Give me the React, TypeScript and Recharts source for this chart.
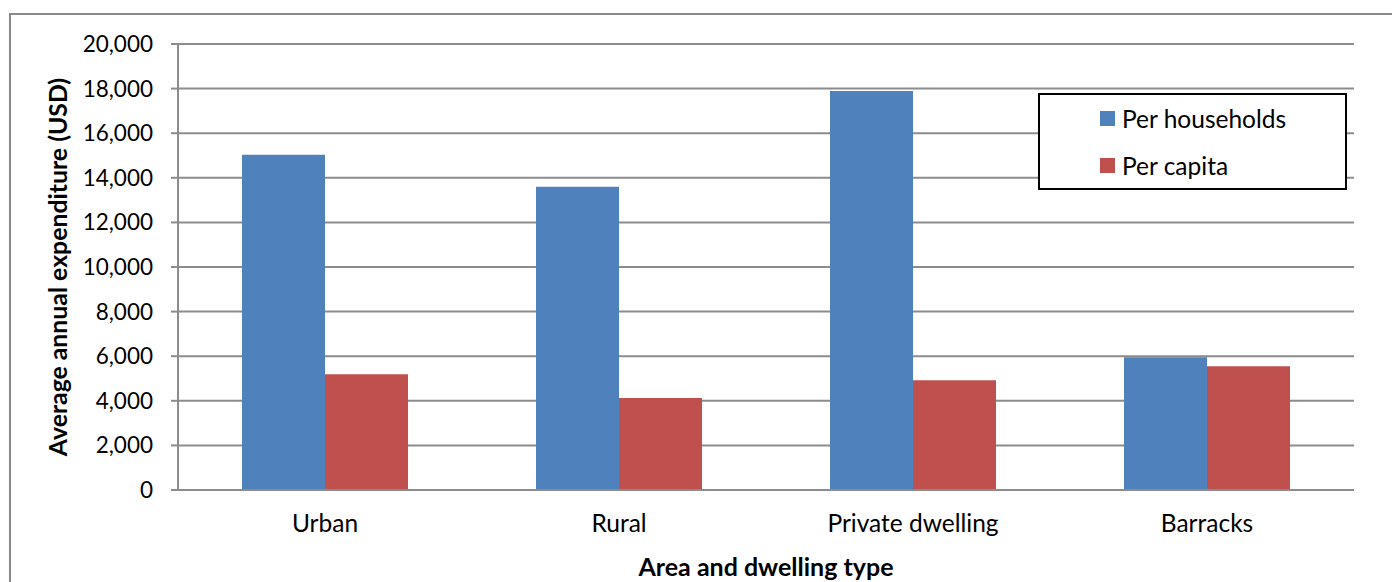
import React from 'react'
import {
    BarChart,
    Bar,
    XAxis,
    YAxis,
    CartesianGrid,
    Legend,
} from 'recharts'

const categories = ['Urban', 'Rural', 'Private dwelling', 'Barracks']
const perHouseholds = [15030, 13600, 17890, 5950]
const perCapita = [5190, 4120, 4920, 5550]
const yTicks = [0, 2000, 4000, 6000, 8000, 10000, 12000, 14000, 16000, 18000, 20000]
const edgeTicks = [0, 1, 2, 3, 4]
const seriesNames = ['Per households', 'Per capita']

const chartData = categories.map((name, i) => ({
    name,
    households: perHouseholds[i],
    capita: perCapita[i],
}))

const FONT = 'Lato, "Open Sans", sans-serif'
const GRID = '#8c8c8c'

const LegendBox = ({ payload }: any) => {
    const items = [...(payload || [])].sort(
        (a: any, b: any) => seriesNames.indexOf(a.value) - seriesNames.indexOf(b.value)
    )
    return (
        <div
            style={{
                width: 305,
                height: 93,
                border: '2px solid #000',
                background: '#fff',
                fontFamily: FONT,
                fontSize: 24.5,
                color: '#000',
                boxSizing: 'content-box',
            }}
        >
            {items.map((p: any) => (
                <div key={p.value} style={{ display: 'flex', alignItems: 'center', height: 47, paddingLeft: 60 }}>
                    <span style={{ width: 15, height: 15, background: p.color, display: 'inline-block', marginRight: 7 }} />
                    <span>{p.value}</span>
                </div>
            ))}
        </div>
    )
}

export default function App() {
    return (
        <div style={{ position: 'absolute', left: 0, top: 0, width: 1392, height: 582, overflow: 'hidden', background: '#fff' }}>
            <div
                style={{
                    position: 'absolute',
                    left: 9,
                    top: 13,
                    width: 1400,
                    height: 600,
                    border: '2px solid #8a8a8a',
                }}
            />
            <div style={{ position: 'absolute', left: 0, top: 0 }}>
                <BarChart
                    width={1392}
                    height={582}
                    data={chartData}
                    margin={{ top: 44, right: 38, bottom: 0, left: 0 }}
                    barCategoryGap={64}
                    barGap={0}
                    style={{ fontFamily: FONT }}
                >
                    <CartesianGrid horizontal vertical={false} stroke={GRID} strokeWidth={2} />
                    <XAxis
                        xAxisId="edges"
                        type="number"
                        domain={[0, 4]}
                        ticks={edgeTicks}
                        tick={false}
                        axisLine={false}
                        tickLine={{ stroke: GRID, strokeWidth: 2 }}
                        tickSize={8}
                        height={0}
                    />
                    <XAxis
                        xAxisId="cat"
                        dataKey="name"
                        height={92}
                        tickSize={0}
                        tickMargin={25}
                        tickLine={false}
                        axisLine={{ stroke: GRID, strokeWidth: 2 }}
                        tick={{ fill: '#000', fontSize: 24.5, fontFamily: FONT }}
                        label={{
                            value: 'Area and dwelling type',
                            position: 'insideBottom',
                            offset: 6,
                            style: { fill: '#000', fontSize: 25, fontWeight: 700, fontFamily: FONT },
                        }}
                    />
                    <YAxis
                        width={178}
                        domain={[0, 20000]}
                        ticks={yTicks}
                        interval={0}
                        tickSize={7}
                        tickMargin={18}
                        tickFormatter={(v: number) => v.toLocaleString('en-US')}
                        axisLine={{ stroke: GRID, strokeWidth: 2 }}
                        tickLine={{ stroke: GRID, strokeWidth: 2 }}
                        tick={{ fill: '#000', fontSize: 22.5, fontFamily: FONT }}
                        label={{
                            value: 'Average annual expenditure (USD)',
                            angle: -90,
                            position: 'center',
                            dx: -31,
                            style: { fill: '#000', fontSize: 24.8, fontWeight: 700, fontFamily: FONT, textAnchor: 'middle' },
                        }}
                    />
                    <Legend
                        layout="vertical"
                        verticalAlign="middle"
                        align="center"
                        wrapperStyle={{ left: 1038, top: 93, width: 309, right: 'auto', bottom: 'auto' }}
                        content={<LegendBox />}
                    />
                    <Bar xAxisId="cat" dataKey="households" name={seriesNames[0]} fill="#4F81BD" isAnimationActive={false} />
                    <Bar xAxisId="cat" dataKey="capita" name={seriesNames[1]} fill="#C0504D" isAnimationActive={false} />
                </BarChart>
            </div>
        </div>
    )
}
